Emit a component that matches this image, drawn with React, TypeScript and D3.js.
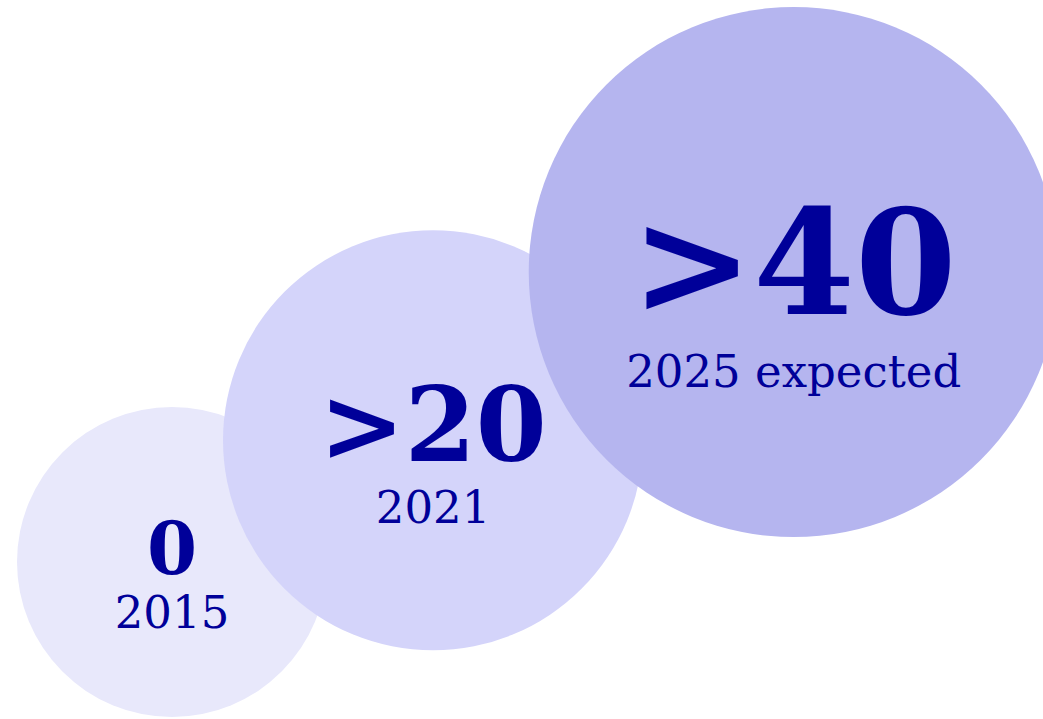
import React from "react";
import * as d3 from "d3";

// ---- data ----
const categories = ["2015", "2021", "2025 expected"];
const values = [0, 20, 40];
const valueLabels = ["0", ">20", ">40"];

// ---- styles ----
const WIDTH = 1043;
const HEIGHT = 719;
const fills = ["#e8e8fb", "#d4d4fa", "#b5b5ef"];
const valueFontSizes = [72, 102, 146];
const valueDy = [12, 21, 42];
const yearDy = [66, 83, 115];
const yearFontSize = 45;
const textColor = "#000099";

export default function App() {
  const r = d3.scaleLinear().domain([0, 40]).range([155, 265]);
  const angle = (-25 * Math.PI) / 180;
  const overlap = 77;
  const start: [number, number] = [172, 562];

  const nodes: { x: number; y: number; r: number }[] = [];
  values.forEach((v, i) => {
    const rad = r(v);
    if (i === 0) {
      nodes.push({ x: start[0], y: start[1], r: rad });
    } else {
      const prev = nodes[i - 1];
      const d = prev.r + rad - overlap;
      nodes.push({
        x: prev.x + d * Math.cos(angle),
        y: prev.y + d * Math.sin(angle),
        r: rad,
      });
    }
  });

  return (
    <svg
      width={WIDTH}
      height={HEIGHT}
      style={{ position: "absolute", left: 0, top: 0, overflow: "hidden" }}
    >
      <rect width={WIDTH} height={HEIGHT} fill="#ffffff" />
      {nodes.map((n, i) => (
        <g key={categories[i]}>
          <circle cx={n.x} cy={n.y} r={n.r} fill={fills[i]} />
          <text
            x={n.x}
            y={n.y + valueDy[i]}
            textAnchor="middle"
            fill={textColor}
            fontFamily="'DejaVu Serif', serif"
            fontWeight="bold"
            fontSize={valueFontSizes[i]}
          >
            {valueLabels[i]}
          </text>
          <text
            x={n.x}
            y={n.y + yearDy[i]}
            textAnchor="middle"
            fill={textColor}
            fontFamily="'DejaVu Serif', serif"
            fontSize={yearFontSize}
          >
            {categories[i]}
          </text>
        </g>
      ))}
    </svg>
  );
}
